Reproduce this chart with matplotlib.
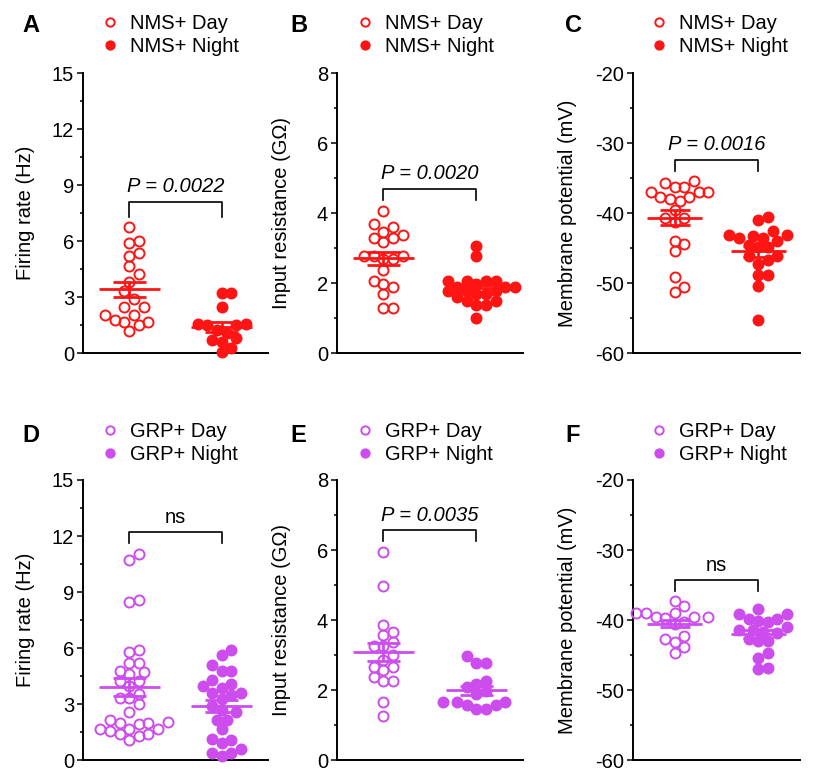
import numpy as np
import matplotlib.pyplot as plt
from matplotlib.lines import Line2D

plt.rcParams['font.family'] = ['Liberation Sans', 'DejaVu Sans']
plt.rcParams['axes.unicode_minus'] = False

red = '#FF1414'
purple = '#CC4CEE'

# A: firing rate, NMS+
nms_fr_day = [6.76, 6.0, 5.88, 5.34, 5.22, 4.68, 4.23, 3.81, 3.31, 2.88, 2.49, 2.49,
              2.06, 2.06, 1.78, 1.68, 1.68, 1.48, 1.19]
nms_fr_night = [3.23, 3.23, 2.49, 1.57, 1.57, 1.48, 1.48, 1.21, 1.06, 0.80, 0.67, 0.57,
                0.29, 0.04]
# B: input resistance, NMS+
nms_ir_day = [4.07, 3.69, 3.59, 3.47, 3.38, 3.28, 3.28, 3.17, 2.78, 2.78, 2.78, 2.68,
              2.68, 2.38, 2.07, 1.98, 1.88, 1.68, 1.28, 1.28]
nms_ir_night = [3.07, 2.78, 2.07, 2.07, 2.07, 2.07, 1.98, 1.88, 1.88, 1.88, 1.78, 1.78,
                1.78, 1.68, 1.68, 1.59, 1.49, 1.49, 1.38, 1.38, 0.99]
# C: membrane potential, NMS+
nms_vm_day = [-35.39, -35.76, -36.24, -36.33, -37.05, -37.05, -37.05, -37.67, -37.76,
              -38.0, -38.29, -39.57, -40.71, -40.71, -41.33, -43.95, -44.43, -45.38,
              -49.19, -50.62, -51.24]
nms_vm_night = [-40.62, -41.0, -42.62, -43.1, -43.1, -43.24, -43.62, -43.62, -43.95,
                -44.57, -44.86, -44.9, -46.19, -46.19, -46.67, -47.29, -48.86, -48.86,
                -50.48, -55.29]
# D: firing rate, GRP+
grp_fr_day = [11.05, 10.7, 8.57, 8.48, 5.9, 5.77, 5.18, 5.18, 4.78, 4.69, 4.6, 4.24,
              4.24, 3.97, 3.52, 3.34, 3.34, 2.98, 2.56, 2.16, 2.04, 1.98, 1.98, 1.93,
              1.67, 1.67, 1.67, 1.56, 1.38, 1.38, 1.26, 1.08]
grp_fr_night = [5.9, 5.6, 5.09, 4.78, 4.78, 4.27, 4.09, 3.97, 3.88, 3.57, 3.57, 3.48,
                3.25, 2.89, 2.7, 2.58, 2.16, 2.16, 1.66, 1.14, 1.05, 0.9, 0.6, 0.36,
                0.36, 0.23]
# E: input resistance, GRP+
grp_ir_day = [5.95, 4.97, 3.87, 3.66, 3.56, 3.37, 3.27, 3.27, 3.0, 2.86, 2.67, 2.67,
              2.57, 2.38, 2.27, 2.27, 1.67, 1.27]
grp_ir_night = [2.96, 2.77, 2.77, 2.27, 2.18, 2.08, 1.96, 1.88, 1.67, 1.67, 1.67, 1.58,
                1.58, 1.46, 1.46]
# F: membrane potential, GRP+
grp_vm_day = [-37.23, -37.95, -38.94, -39.05, -39.05, -39.52, -39.52, -39.52, -39.76,
              -40.3, -40.6, -42.28, -42.76, -43.19, -43.86, -44.76]
grp_vm_night = [-38.43, -39.19, -39.19, -39.86, -39.86, -40.14, -40.33, -40.95, -41.43,
                -41.43, -41.67, -41.9, -42.71, -43.0, -43.0, -44.76, -45.48, -46.81,
                -47.0]

ylabels = ['Firing rate (Hz)', 'Input resistance (G\u03a9)', 'Membrane potential (mV)']
ylims = [(0, 15), (0, 8), (-60, -20)]
yticks = [np.arange(0, 16, 3), np.arange(0, 9, 2), np.arange(-60, -19, 10)]
minor_step = [1.5, 1, 5]
stats = ['P = 0.0022', 'P = 0.0020', 'P = 0.0016', 'ns', 'P = 0.0035', 'ns']
brackets = [(7.3, 8.1), (4.37, 4.69), (-34.0, -32.4), (11.6, 12.2), (6.25, 6.56), (-35.9, -34.3)]
letters = ['A', 'B', 'C', 'D', 'E', 'F']

W, H = 820, 772
fig = plt.figure(figsize=(W / 100, H / 100), dpi=100)

lefts = [83, 337, 633]
widths = [185, 186, 167]
bottoms = [353, 760]
ylab_x = [-0.26, -0.245, -0.335]
letter_x = [22, 290, 565]
legend_x = [102, 357, 651]


def swarm_x(ax, xc, vals, d=9.6, h=4.8):
    # greedy beeswarm in pixel space
    pts = ax.transData.transform(np.column_stack([np.full(len(vals), xc), vals]))
    x0, ys = pts[0, 0], pts[:, 1]
    cands = [0.0]
    for k in range(1, 40):
        cands += [k * h, -k * h]
    offs = np.zeros(len(vals))
    placed = []
    for i in np.argsort(ys):
        for c in cands:
            if all((c - px) ** 2 + (ys[i] - py) ** 2 >= d * d for px, py in placed):
                offs[i] = c
                placed.append((c, ys[i]))
                break
    inv = ax.transData.inverted()
    return inv.transform(np.column_stack([x0 + offs, ys]))[:, 0]


groups = [
    (nms_fr_day, nms_fr_night), (nms_ir_day, nms_ir_night), (nms_vm_day, nms_vm_night),
    (grp_fr_day, grp_fr_night), (grp_ir_day, grp_ir_night), (grp_vm_day, grp_vm_night),
]

for idx, (day, night) in enumerate(groups):
    row, col = divmod(idx, 3)
    color = red if row == 0 else purple
    name = 'NMS+' if row == 0 else 'GRP+'
    ax = fig.add_axes([lefts[col] / W, 1 - bottoms[row] / H, widths[col] / W, 280 / H])
    ax.set_xlim(-0.5, 1.5)
    ax.set_ylim(*ylims[col])

    for xc, vals, filled in [(0, day, False), (1, night, True)]:
        vals = np.array(vals)
        xs = swarm_x(ax, xc, vals)
        ax.plot(xs, vals, 'o', ms=7.2, mew=1.4, mec=color,
                mfc=color if filled else 'none', clip_on=False, zorder=3)
        m = vals.mean()
        sem = vals.std(ddof=1) / np.sqrt(len(vals))
        ax.hlines(m, xc - 0.33, xc + 0.33, color=color, lw=2, zorder=4)
        ax.hlines([m - sem, m + sem], xc - 0.18, xc + 0.18, color=color, lw=2, zorder=4)
        ax.vlines(xc, m - sem, m + sem, color=color, lw=2, zorder=4)

    lo, hi = brackets[idx]
    ax.plot([0, 0, 1, 1], [lo, hi, hi, lo], color='black', lw=1.2, clip_on=False)
    italic = stats[idx] != 'ns'
    ax.annotate(stats[idx], (0.5, hi), xytext=(0, 4), textcoords='offset points',
                ha='center', va='bottom', fontsize=14.5,
                style='italic' if italic else 'normal')

    ax.set_yticks(yticks[col])
    ax.set_yticks(np.arange(ylims[col][0], ylims[col][1] + 0.01, minor_step[col]), minor=True)
    ax.set_xticks([])
    ax.tick_params(axis='y', which='major', length=4.5, width=1.1, labelsize=14.5, pad=2)
    ax.tick_params(axis='y', which='minor', length=2.5, width=1.1)
    for s in ['top', 'right']:
        ax.spines[s].set_visible(False)
    for s in ['left', 'bottom']:
        ax.spines[s].set_linewidth(1.4)
    ax.set_ylabel(ylabels[col], fontsize=14.5)
    ax.yaxis.set_label_coords(ylab_x[col], 0.5)

    top_px = 14 if row == 0 else 422
    handles = [Line2D([], [], ls='none', marker='o', ms=6, mew=1.4, mec=color, mfc='none'),
               Line2D([], [], ls='none', marker='o', ms=6, mew=1.4, mec=color, mfc=color)]
    ax.legend(handles, [name + ' Day', name + ' Night'], loc='upper left',
              bbox_to_anchor=(legend_x[col] / W, 1 - top_px / H),
              bbox_transform=fig.transFigure, frameon=False, fontsize=14.5,
              handlelength=0.8, handletextpad=0.6, labelspacing=0.2,
              borderpad=0, borderaxespad=0)

    letter_y = 32 if row == 0 else 442
    fig.text(letter_x[col] / W, 1 - letter_y / H, letters[idx], fontsize=17,
             fontweight='bold', va='baseline')

fig.savefig('out.png', dpi=100)
